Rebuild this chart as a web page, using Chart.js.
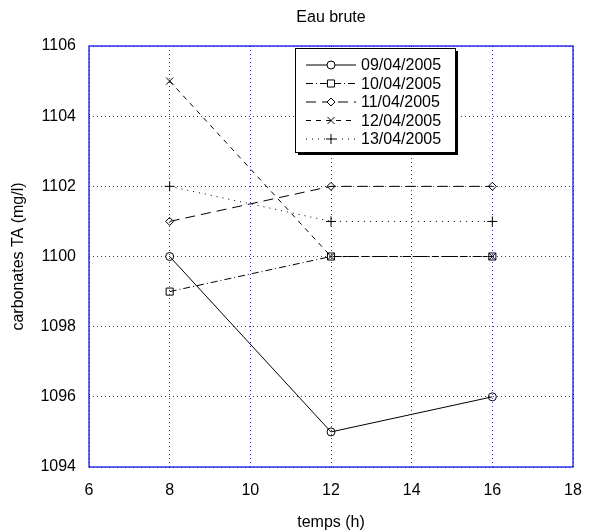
<!DOCTYPE html>
<html>
<head>
<meta charset="utf-8">
<script src="https://cdn.jsdelivr.net/npm/chart.js@4/dist/chart.umd.min.js"></script>
<style>
  html, body { margin: 0; padding: 0; background: #fff; }
  #wrap { width: 614px; height: 532px; }
</style>
</head>
<body>
<div id="wrap"><canvas id="chart" width="614" height="532"></canvas></div>
<script>
// data
const hours = [8, 12, 16];
const d0904 = [1100, 1095, 1096];
const d1004 = [1099, 1100, 1100];
const d1104 = [1101, 1102, 1102];
const d1204 = [1105, 1100, 1100];
const d1304 = [1102, 1101, 1101];
const seriesLabels = ['09/04/2005', '10/04/2005', '11/04/2005', '12/04/2005', '13/04/2005'];
const xTicks = [6, 8, 10, 12, 14, 16, 18];
const yTicks = [1094, 1096, 1098, 1100, 1102, 1104, 1106];

const FONT = 'Liberation Sans, Arial, sans-serif';
const GRID = '#2a2aff';

const styles = [
  { dash: [], point: 'circle', r: 4 },
  { dash: [7, 3, 1, 3], point: 'rect', r: 5 },
  { dash: [10, 6], point: 'rectRot', r: 4 },
  { dash: [5, 5], point: 'crossRot', r: 5 },
  { dash: [1, 5], point: 'cross', r: 5 }
];

const allData = [d0904, d1004, d1104, d1204, d1304];
const datasets = allData.map((vals, i) => ({
  label: seriesLabels[i],
  data: hours.map((h, j) => ({ x: h, y: vals[j] })),
  borderColor: '#000',
  borderWidth: 1,
  borderDash: styles[i].dash,
  pointStyle: styles[i].point,
  pointRadius: styles[i].r,
  pointBorderColor: '#000',
  pointBackgroundColor: 'transparent',
  pointBorderWidth: 1,
  tension: 0
}));

// blue frame around the axes + title + legend box
const frame = {
  id: 'frame',
  afterDraw(chart) {
    const { ctx, chartArea: a } = chart;
    ctx.save();
    ctx.strokeStyle = '#0000ee';
    ctx.lineWidth = 1.2;
    ctx.strokeRect(a.left, a.top, a.right - a.left, a.bottom - a.top);

    // title
    ctx.fillStyle = '#000';
    ctx.font = '16px ' + FONT;
    ctx.textAlign = 'center';
    ctx.textBaseline = 'middle';
    ctx.fillText('Eau brute', (a.left + a.right) / 2, 18);

    // legend
    const bx = 295, by = 48, bw = 160, bh = 104;
    ctx.fillStyle = '#000';
    ctx.fillRect(bx + 3, by + 3, bw, bh);
    ctx.fillStyle = '#fff';
    ctx.fillRect(bx, by, bw, bh);
    ctx.strokeStyle = '#000';
    ctx.lineWidth = 1;
    ctx.strokeRect(bx + 0.5, by + 0.5, bw, bh);
    ctx.font = '16px ' + FONT;
    ctx.textAlign = 'left';
    seriesLabels.forEach((lab, i) => {
      const y = 65 + i * 18.5;
      ctx.setLineDash(styles[i].dash);
      ctx.beginPath();
      ctx.moveTo(306, y);
      ctx.lineTo(356, y);
      ctx.stroke();
      ctx.setLineDash([]);
      ctx.fillStyle = '#fff';
      Chart.helpers.drawPoint(ctx, {
        pointStyle: styles[i].point, radius: styles[i].r, borderWidth: 1, rotation: 0
      }, 331, y);
      ctx.fillStyle = '#000';
      ctx.fillText(lab, 361, y + 1);
    });
    ctx.restore();
  }
};

new Chart(document.getElementById('chart'), {
  type: 'line',
  data: { datasets },
  options: {
    responsive: false,
    animation: false,
    layout: { padding: { top: 46, right: 41, left: 0, bottom: 0 } },
    plugins: {
      legend: { display: false },
      title: { display: false },
      tooltip: { enabled: false }
    },
    scales: {
      x: {
        type: 'linear',
        min: 6, max: 18,
        afterBuildTicks: s => { s.ticks = xTicks.map(v => ({ value: v })); },
        afterFit: s => { s.height = 65; },
        grid: { color: GRID, drawTicks: false, lineWidth: 1 },
        border: { display: false, dash: [1, 3] },
        ticks: { color: '#000', font: { family: FONT, size: 16 }, padding: 14, maxRotation: 0, callback: v => String(v) },
        title: { display: true, text: 'temps (h)', color: '#000', font: { family: FONT, size: 16 }, padding: { top: 8, bottom: 0 } }
      },
      y: {
        min: 1094, max: 1106,
        afterBuildTicks: s => { s.ticks = yTicks.map(v => ({ value: v })); },
        afterFit: s => { s.width = 89; },
        grid: { color: GRID, drawTicks: false, lineWidth: 1 },
        border: { display: false, dash: [1, 3] },
        ticks: { color: '#000', font: { family: FONT, size: 16 }, padding: 13, callback: v => String(v) },
        title: { display: true, text: 'carbonates TA (mg/l)', color: '#000', font: { family: FONT, size: 16 }, padding: { top: 9, bottom: 4 } }
      }
    }
  },
  plugins: [frame]
});
</script>
</body>
</html>
